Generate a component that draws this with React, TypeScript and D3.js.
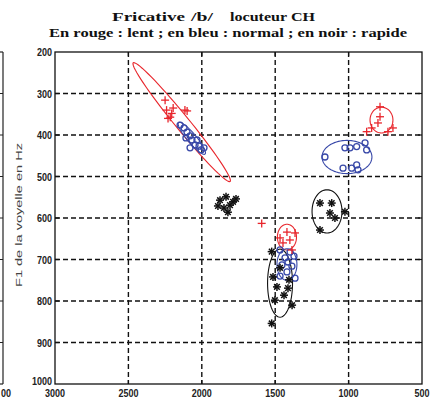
import React from "react";
import * as d3 from "d3";

const W = 439;
const H = 401;

// axis ticks
const xTicks = [3000, 2500, 2000, 1500, 1000, 500];
const yTicks = [200, 300, 400, 500, 600, 700, 800, 900, 1000];
// visible fragment of the neighbouring panel's last x tick label
const neighbourTickLabel = "00";

// red (lent) points [F2, F1]
const redPoints: [number, number][] = [
  [2250, 316], [2240, 340], [2205, 348], [2115, 340], [2215, 357], [2230, 360], [2195, 335], [2100, 342],
  [786, 332], [786, 356], [800, 371], [843, 383], [698, 383], [877, 392], [732, 392],
  [1592, 613],
  [1420, 634], [1365, 636], [1447, 660], [1386, 677], [1400, 653], [1467, 648],
];

// blue (normal) points
const bluePoints: [number, number][] = [
  [2148, 376], [2121, 383], [2101, 393], [2080, 402], [2067, 412], [2046, 424], [2080, 431], [2005, 436],
  [2033, 412], [2108, 407], [2019, 427], [1985, 431],
  [1161, 453], [1025, 431], [990, 431], [945, 428], [888, 419], [1038, 480], [979, 480], [945, 472], [936, 484], [877, 436],
  [1467, 677], [1399, 682], [1433, 696], [1372, 692], [1454, 713], [1386, 716], [1420, 730], [1467, 740], [1365, 745], [1413, 706],
];

// black (rapide) points
const blackPoints: [number, number][] = [
  [1876, 557], [1835, 549], [1808, 569], [1849, 576], [1787, 561], [1822, 586], [1890, 571], [1767, 554],
  [1195, 564], [1115, 564], [1127, 588], [1093, 600], [1025, 585], [1195, 629],
  [1524, 681], [1515, 742], [1488, 766], [1413, 769], [1385, 810], [1524, 854], [1467, 720], [1440, 786], [1502, 798], [1406, 749],
];

// ellipses: center (cx, cy) and half-axis vectors a, b in data units
type Ell = { color: string; cx: number; cy: number; ax: number; ay: number; bx: number; by: number };
const redEllipses: Ell[] = [
  { color: "red", cx: 2137, cy: 369, ax: 330, ay: -143, bx: 37, by: 11 },
  { color: "red", cx: 776, cy: 364, ax: 78, ay: 0, bx: 0, by: 31 },
  { color: "red", cx: 1420, cy: 646, ax: 65, ay: 0, bx: 0, by: 31 },
];
const blueEllipses: Ell[] = [
  { color: "blue", cx: 2068, cy: 408, ax: 90, ay: -38, bx: 24, by: 7 },
  { color: "blue", cx: 1011, cy: 453, ax: 170, ay: 0, bx: 0, by: 40 },
  { color: "blue", cx: 1420, cy: 712, ax: 68, ay: 0, bx: 0, by: 38 },
];
const blackEllipses: Ell[] = [
  { color: "black", cx: 1147, cy: 584, ax: 102, ay: 0, bx: 0, by: 52 },
  { color: "black", cx: 1467, cy: 757, ax: 85, ay: 0, bx: 0, by: 82 },
];

const COLORS: Record<string, string> = { red: "#e8262c", blue: "#3848a8", black: "#111111" };

const x = d3.scaleLinear().domain([3000, 500]).range([55, 422]);
const y = d3.scaleLinear().domain([200, 1000]).range([52, 384]);

const ellipsePath = (e: Ell) => {
  const pts: [number, number][] = d3.range(0, 72).map((i) => {
    const t = (i / 72) * Math.PI * 2;
    return [
      x(e.cx + e.ax * Math.cos(t) + e.bx * Math.sin(t)),
      y(e.cy + e.ay * Math.cos(t) + e.by * Math.sin(t)),
    ];
  });
  return d3.line().curve(d3.curveLinearClosed)(pts) || "";
};

const tickFont = { fontFamily: "Liberation Sans, Arial, sans-serif", fontWeight: 700, fontSize: 10 };

export default function App() {
  const [x0, x1] = x.range();
  const [y0, y1] = y.range();
  const gridX = xTicks.filter((t) => t !== 3000 && t !== 500);
  const gridY = yTicks.filter((t) => t !== 200 && t !== 1000);
  const leftEdge = 3;
  return (
    <svg width={W} height={H} style={{ position: "absolute", left: 0, top: 0, background: "#fff" }}>
      <rect x={0} y={0} width={W} height={H} fill="#fff" />
      {/* neighbouring panel fragment */}
      <line x1={leftEdge} x2={leftEdge} y1={y0} y2={y1} stroke="#222" strokeWidth={1.2} />
      <line x1={0} x2={leftEdge} y1={y0} y2={y0} stroke="#222" strokeWidth={1.2} />
      <line x1={0} x2={leftEdge} y1={y1} y2={y1} stroke="#222" strokeWidth={1.2} />
      {gridY.map((t) => (
        <line key={"lt" + t} x1={0} x2={leftEdge} y1={y(t)} y2={y(t)} stroke="#222" strokeWidth={1} />
      ))}
      <text x={1} y={397} {...tickFont} textLength={10} lengthAdjust="spacingAndGlyphs" fill="#222">
        {neighbourTickLabel}
      </text>

      {/* titles */}
      <g fontFamily="Liberation Serif, Times New Roman, serif" fontWeight={700} fontSize={13} fill="#111">
        <text x={112} y={21} textLength={73} lengthAdjust="spacingAndGlyphs">Fricative</text>
        <text x={191} y={21} textLength={22} lengthAdjust="spacingAndGlyphs">/b/</text>
        <text x={230} y={21} textLength={85} lengthAdjust="spacingAndGlyphs">locuteur CH</text>
        <text x={49} y={37} textLength={358} lengthAdjust="spacingAndGlyphs">
          En rouge : lent ; en bleu : normal ; en noir : rapide
        </text>
      </g>

      {/* y label */}
      <text
        transform="translate(22,215) rotate(-90)"
        textAnchor="middle"
        fontFamily="Liberation Sans, Arial, sans-serif"
        fontSize={9}
        fill="#444"
        textLength={144}
        lengthAdjust="spacingAndGlyphs"
      >
        F1 de la voyelle en Hz
      </text>

      {/* grid */}
      {gridX.map((t) => (
        <line key={"gx" + t} x1={x(t)} x2={x(t)} y1={y0} y2={y1} stroke="#111" strokeWidth={1.4} strokeDasharray="5,3" />
      ))}
      {gridY.map((t) => (
        <line key={"gy" + t} x1={x0} x2={x1} y1={y(t)} y2={y(t)} stroke="#111" strokeWidth={1.3} strokeDasharray="5,3" />
      ))}

      {/* ticks */}
      {gridX.map((t) => (
        <g key={"tx" + t}>
          <line x1={x(t)} x2={x(t)} y1={y1} y2={y1 - 4} stroke="#111" strokeWidth={1.2} />
          <line x1={x(t)} x2={x(t)} y1={y0} y2={y0 + 4} stroke="#111" strokeWidth={1.2} />
        </g>
      ))}
      {gridY.map((t) => (
        <g key={"ty" + t}>
          <line x1={x0} x2={x0 + 4} y1={y(t)} y2={y(t)} stroke="#111" strokeWidth={1.2} />
          <line x1={x1} x2={x1 - 4} y1={y(t)} y2={y(t)} stroke="#111" strokeWidth={1.2} />
        </g>
      ))}

      {/* tick labels */}
      {yTicks.map((t) => (
        <text
          key={"yl" + t}
          x={x0 - 3}
          y={y(t) + (t === 1000 ? 1 : 4)}
          textAnchor="end"
          {...tickFont}
          fill="#222"
          textLength={String(t).length * 5}
          lengthAdjust="spacingAndGlyphs"
        >
          {t}
        </text>
      ))}
      {xTicks.map((t) => (
        <text
          key={"xl" + t}
          x={x(t)}
          y={397}
          textAnchor="middle"
          {...tickFont}
          fill="#222"
          textLength={String(t).length * 5}
          lengthAdjust="spacingAndGlyphs"
        >
          {t}
        </text>
      ))}

      {/* ellipses */}
      {[...redEllipses, ...blueEllipses, ...blackEllipses].map((e, i) => (
        <path key={"e" + i} d={ellipsePath(e)} fill="none" stroke={COLORS[e.color]} strokeWidth={1.1} />
      ))}

      {/* markers */}
      {bluePoints.map((p, i) => (
        <circle key={"b" + i} cx={x(p[0])} cy={y(p[1])} r={3} fill="none" stroke={COLORS.blue} strokeWidth={1.3} />
      ))}
      {redPoints.map((p, i) => (
        <g key={"r" + i} stroke={COLORS.red} strokeWidth={1.3}>
          <line x1={x(p[0]) - 4} x2={x(p[0]) + 4} y1={y(p[1])} y2={y(p[1])} />
          <line x1={x(p[0])} x2={x(p[0])} y1={y(p[1]) - 4} y2={y(p[1]) + 4} />
        </g>
      ))}
      {blackPoints.map((p, i) => (
        <g key={"k" + i} stroke={COLORS.black} strokeWidth={1.5}>
          <line x1={x(p[0]) - 4} x2={x(p[0]) + 4} y1={y(p[1])} y2={y(p[1])} />
          <line x1={x(p[0])} x2={x(p[0])} y1={y(p[1]) - 4} y2={y(p[1]) + 4} />
          <line x1={x(p[0]) - 2.8} x2={x(p[0]) + 2.8} y1={y(p[1]) - 2.8} y2={y(p[1]) + 2.8} />
          <line x1={x(p[0]) - 2.8} x2={x(p[0]) + 2.8} y1={y(p[1]) + 2.8} y2={y(p[1]) - 2.8} />
        </g>
      ))}

      {/* frame */}
      <rect x={x0} y={y0} width={x1 - x0} height={y1 - y0} fill="none" stroke="#111" strokeWidth={1.3} />
    </svg>
  );
}
